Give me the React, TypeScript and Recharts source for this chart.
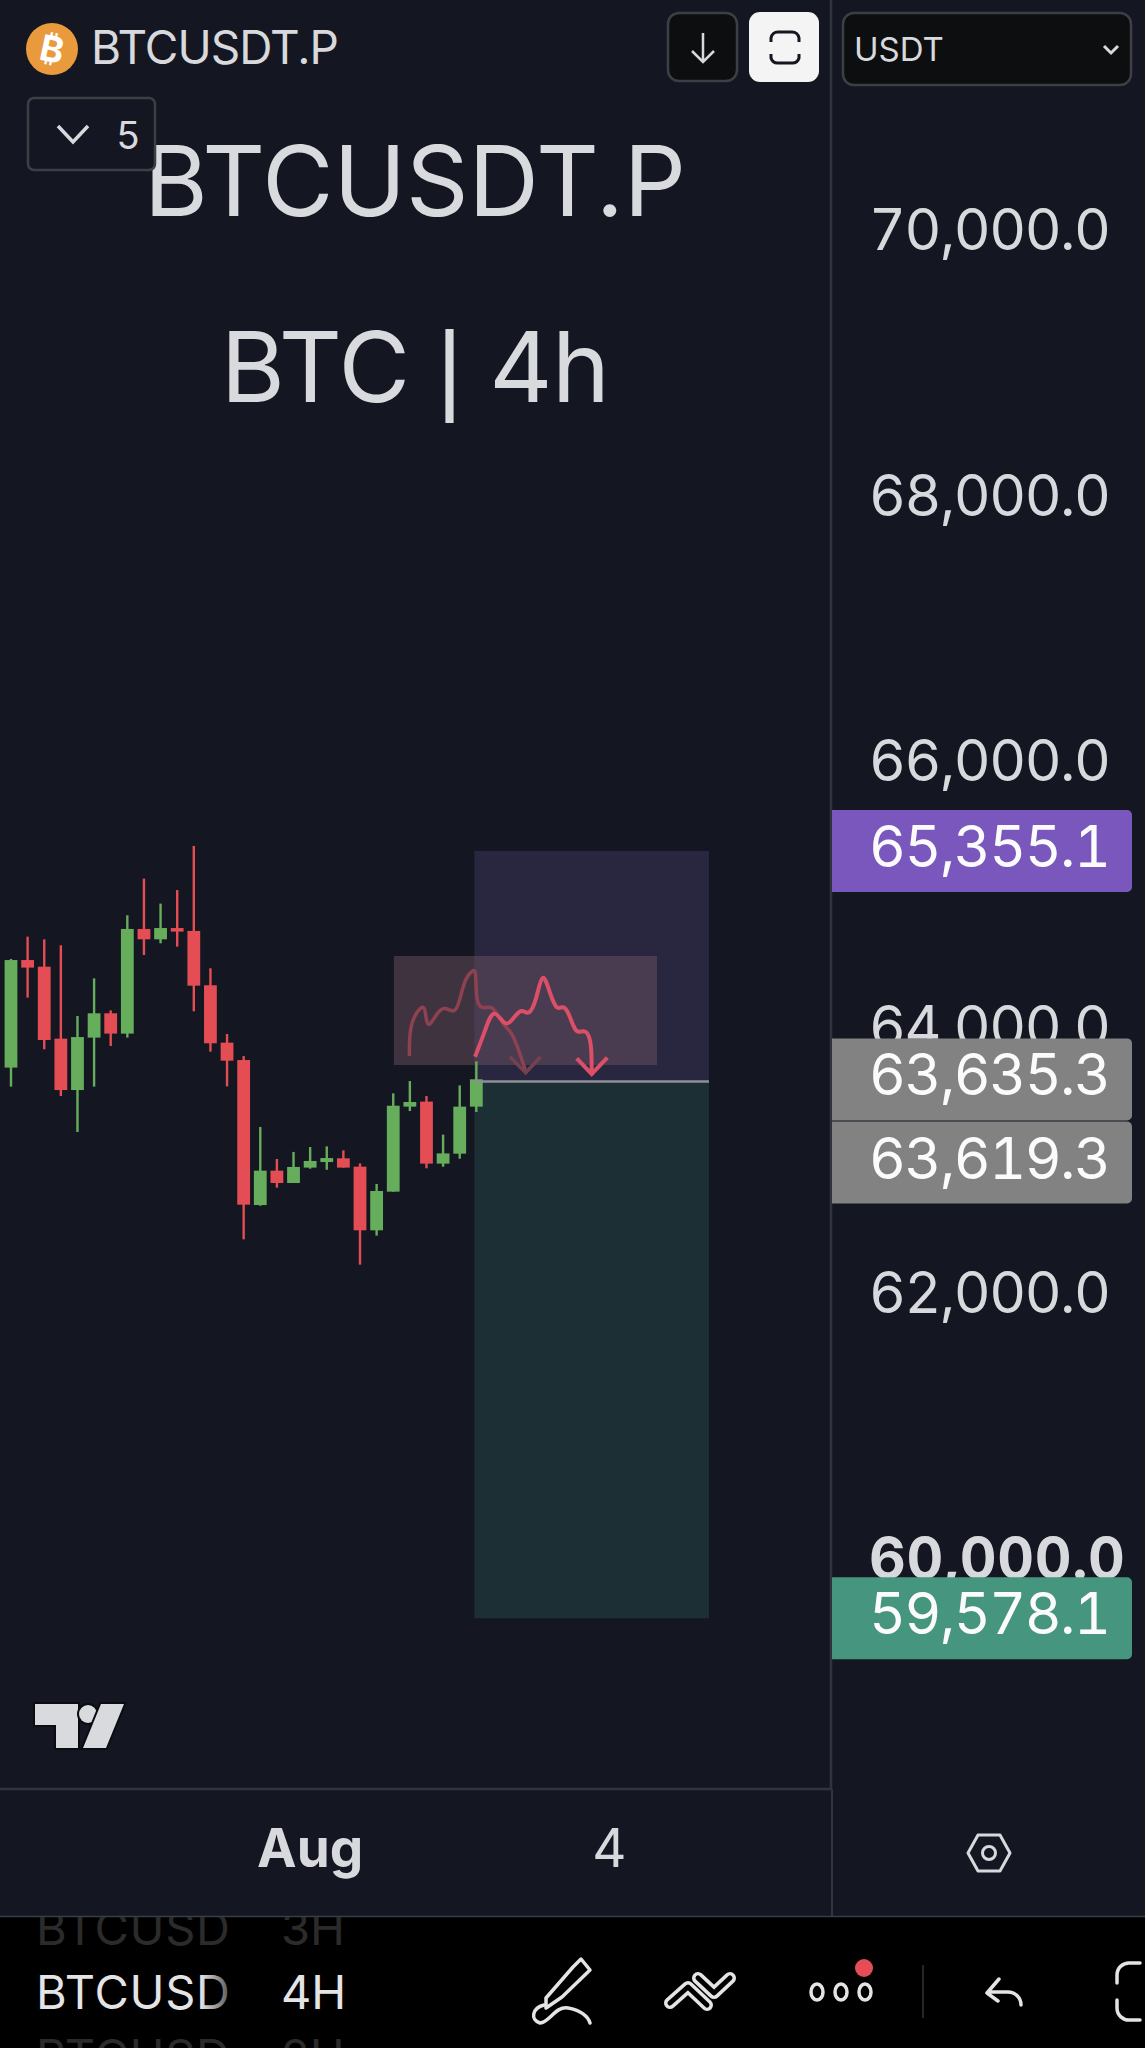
import React from 'react';
import { ComposedChart, Bar, Line, XAxis, YAxis, ReferenceArea } from 'recharts';

// Candles, left to right: [open, high, low, close]
const opens = [63724,64534,64484,63942,63555,63950,64133,63980,64768,64690,64775,64753,64344,63912,63781,62689,62948,62855,62971,63013,63041,62978,62499,62790,63430,63468,63001,63076,63430];
const highs = [64542,64710,64690,64645,64113,64396,64155,64871,65147,64959,65061,65393,64472,63977,63811,63277,63036,63089,63126,63131,63101,63003,62848,63530,63623,63510,63219,63590,63771];
const lows = [63581,64251,63862,63510,63239,63581,63887,63950,64572,64660,64635,64148,63844,63583,62431,62684,62820,62855,62963,62955,62971,62240,62459,62790,63397,62966,62978,63038,63390];
const closes = [64534,64477,63932,63555,63954,64133,63980,64768,64690,64775,64748,64341,63907,63776,62692,62948,62855,62976,63021,63043,62971,62499,62795,63437,63465,63001,63078,63430,63636];

// Trade box
const stopPrice = 65355.1;
const currentPrice = 63635.3;
const entryPrice = 63619.3;
const targetPrice = 59578.1;
const tradeStart = 27.88;
const tradeEnd = 42;

// Red rectangle drawing
const noteBox = { i1: 23.04, i2: 38.87, v1: 63744, v2: 64564 };

// Hand-drawn scribbles [bar position, price]
const faintStroke: [number, number][] = [[23.97,63811],[23.97,63982],[24.21,64108],[24.71,64185],[24.91,64180],[25.01,64050],[25.21,64040],[25.71,64150],[26.11,64185],[26.71,64125],[27.01,64233],[27.32,64400],[27.82,64460],[27.98,64460],[27.98,64215],[28.32,64165],[28.92,64190],[29.22,64133],[29.72,64032],[30.12,63995],[30.63,63831],[30.97,63693]];
const faintHead: [number, number][] = [[30.02,63806],[30.97,63686],[31.87,63806]];
const strongStroke: [number, number][] = [[27.92,63806],[28.5,63990],[29.02,64190],[29.72,64030],[30.12,64075],[30.73,64180],[31.13,64105],[31.63,64233],[31.97,64470],[32.43,64283],[32.83,64150],[33.23,64195],[33.53,64145],[33.94,63995],[34.24,63990],[34.64,64010],[34.94,63907],[34.94,63681]];
const strongHead: [number, number][] = [[34.04,63794],[34.94,63676],[35.88,63799]];

// Axes
const priceTicks = [70000, 68000, 66000, 64000, 62000, 60000];
const tagTicks = [stopPrice, currentPrice, entryPrice, targetPrice];
const timeTicks = [18, 36];
const timeLabels: Record<number, string> = { 18: 'Aug', 36: '4' };
const priceDomain: [number, number] = [58292, 71763];
const barDomain: [number, number] = [-0.662, 49.34];

const candles = opens.map((open, i) => ({ i, open, close: closes[i], range: [lows[i], highs[i]] }));
const toPoints = (pts: [number, number][]) => pts.map(([i, p]) => ({ i, p }));

const BG = '#141722';
const UP = '#66ad5c';
const DOWN = '#e34d53';
const FONT = 'Inter, "Liberation Sans", sans-serif';

const Candle = (props: any) => {
  const { x, y, width, height, payload } = props;
  const [lo, hi] = payload.range;
  const perUnit = height / (hi - lo);
  const top = y + (hi - Math.max(payload.open, payload.close)) * perUnit;
  const bot = y + (hi - Math.min(payload.open, payload.close)) * perUnit;
  const color = payload.close >= payload.open ? UP : DOWN;
  const cx = x + width / 2;
  return (
    <g>
      <rect x={cx - 1.2} y={y} width={2.4} height={height} fill={color} />
      <rect x={cx - 6.4} y={top} width={12.8} height={Math.max(bot - top, 2)} fill={color} />
    </g>
  );
};

const tagStyle: Record<string, { fill: string; dy: number }> = {
  [stopPrice]: { fill: '#7a57bd', dy: 0 },
  [currentPrice]: { fill: '#828282', dy: 0 },
  [entryPrice]: { fill: '#828282', dy: 81 },
  [targetPrice]: { fill: '#46967f', dy: 0 },
};

const PriceTick = (props: any) => {
  const { y, payload } = props;
  const v = payload.value;
  const label = v.toLocaleString('en-US', { minimumFractionDigits: 1, maximumFractionDigits: 1 });
  const tag = tagStyle[v];
  const numeric = { fontVariantNumeric: 'tabular-nums' as const };
  if (tag) {
    const cy = y + tag.dy;
    return (
      <g>
        <path d={`M832 ${cy - 41}H1127a5 5 0 0 1 5 5V${cy + 36}a5 5 0 0 1 -5 5H832Z`} fill={tag.fill} />
        <text x={869} y={cy + 16} textAnchor="start" fontFamily={FONT} fontSize={57} letterSpacing={-1.5} fill="#fbfbfb" style={numeric}>{label}</text>
      </g>
    );
  }
  const bold = v === 60000;
  return (
    <text x={869} y={y + 16} textAnchor="start" fontFamily={FONT} fontSize={57} letterSpacing={bold ? 0.6 : -1.5} fontWeight={bold ? 700 : 400} fill="#d8d9dc" style={numeric}>{label}</text>
  );
};

const TimeTick = (props: any) => {
  const { x, payload } = props;
  const bold = payload.value === 18;
  return (
    <text x={x} y={1867} textAnchor="middle" fontFamily={FONT} fontSize={53} fontWeight={bold ? 700 : 400} fill="#d8d9dc">
      {timeLabels[payload.value]}
    </text>
  );
};

const Overlay = () => (
  <svg width={1145} height={2048} style={{ position: 'absolute', left: 0, top: 0, pointerEvents: 'none' }}>
    {/* watermark */}
    <text x={415} y={216} textAnchor="middle" fontFamily={FONT} fontSize={97.5} fill="#d9dadd">BTCUSDT.P</text>
    <text x={415} y={402} textAnchor="middle" fontFamily={FONT} fontSize={98} letterSpacing={-0.6} fill="#d9dadd">BTC<tspan fontFamily='"Liberation Sans"' fontSize={100}> | </tspan>4h</text>

    {/* symbol */}
    <circle cx={52} cy={49} r={26} fill="#e99a3d" />
    <text x={52} y={62} textAnchor="middle" fontFamily='"DejaVu Sans", Inter' fontWeight={700} fontSize={36} fill="#fff" transform="rotate(12 52 49)">₿</text>
    <text x={91} y={64} fontFamily={FONT} fontSize={46} fill="#d8d9dc" letterSpacing={-1}>BTCUSDT.P</text>

    {/* buttons */}
    <rect x={668} y={13} width={69} height={68} rx={11} fill="#0d0e10" stroke="#3d3f45" strokeWidth={2.5} />
    <path d="M703 33V62M692 51L703 62L714 51" fill="none" stroke="#d8d9dc" strokeWidth={2.5} />
    <rect x={749} y={12} width={70} height={70} rx={11} fill="#f4f4f5" />
    <path d="M771 42V38a7 7 0 0 1 7 -6H792a7 7 0 0 1 7 6V42M771 54V58a7 7 0 0 0 7 5H792a7 7 0 0 0 7 -5V54" fill="none" stroke="#141722" strokeWidth={3} />
    <rect x={843} y={13} width={288} height={72} rx={11} fill="#0d0e10" stroke="#3d3f45" strokeWidth={2.5} />
    <text x={854} y={61} fontFamily={FONT} fontSize={33} fill="#d8d9dc">USDT</text>
    <path d="M1104 46L1111 53L1118 46" fill="none" stroke="#d8d9dc" strokeWidth={3} />
    <rect x={28} y={98} width={127} height={72} rx={6} fill={BG} stroke="#3d3f45" strokeWidth={2.5} />
    <path d="M58 126L73 142L88 126" fill="none" stroke="#d8d9dc" strokeWidth={3.5} />
    <text x={128} y={149} textAnchor="middle" fontFamily={FONT} fontSize={38} fill="#d8d9dc">5</text>

    {/* TV logo */}
    <g fill="#d9dadd" stroke="#0b0c12" strokeWidth={4} paintOrder="stroke">
      <path d="M35 1704H78V1748H56V1725H35Z" />
      <circle cx={88} cy={1714} r={9} />
      <path d="M101 1704H124L106 1748H83Z" />
    </g>

    {/* settings */}
    <path d="M968 1853L978 1835H1000L1010 1853L1000 1871H978Z" fill="none" stroke="#d8d9dc" strokeWidth={3} strokeLinejoin="round" />
    <circle cx={989} cy={1853} r={6.5} fill="none" stroke="#d8d9dc" strokeWidth={3} />

    {/* bottom bar */}
    <rect x={0} y={1916} width={1145} height={132} fill="#000" />
    <line x1={0} x2={1145} y1={1916.5} y2={1916.5} stroke="#3a3d45" strokeWidth={1.5} />
    <defs>
      <linearGradient id="fade" x1="0" x2="1" y1="0" y2="0">
        <stop offset="0.85" stopColor="#e4e4e6" />
        <stop offset="1" stopColor="#555" />
      </linearGradient>
      <clipPath id="bar"><rect x={0} y={1917} width={1145} height={131} /></clipPath>
    </defs>
    <g clipPath="url(#bar)" fontFamily={FONT} fontSize={47}>
      <text x={36} y={1945} fill="#2b2b2b" textLength={194}>BTCUSD</text>
      <text x={281} y={1945} fill="#2b2b2b">3H</text>
      <text x={36} y={2009} fill="url(#fade)" textLength={194}>BTCUSD</text>
      <text x={281} y={2009} fill="#e4e4e6">4H</text>
      <text x={36} y={2073} fill="#2b2b2b" textLength={194}>BTCUSD</text>
      <text x={281} y={2073} fill="#2b2b2b">2H</text>
    </g>
    <g fill="none" stroke="#e4e4e6" strokeWidth={3.5} strokeLinejoin="round" strokeLinecap="round">
      <path d="M581 1959L590 1970L562 1997L546 2008L546 1998L573 1967Z" />
      <path d="M544 2005C532 2008 530 2020 540 2023C550 2022 555 2006 568 2008C580 2010 588 2016 590 2023" />
      <g strokeWidth={12}>
        <path d="M670 2003L688 1987L707 2005M698 1978L714 1993L730 1978" />
      </g>
      <path d="M670 2003L688 1987L707 2005M698 1978L714 1993L730 1978" stroke="#000" strokeWidth={5} />
      <ellipse cx={817} cy={1992} rx={6} ry={8} />
      <ellipse cx={841} cy={1992} rx={6} ry={8} />
      <ellipse cx={865} cy={1992} rx={6} ry={8} />
      <path d="M999 1979L987 1993L998 2001M988 1992H1008a13 13 0 0 1 13 13" />
      <path d="M1140 1963H1130a12 12 0 0 0 -13 12V1983M1140 2020H1130a12 12 0 0 1 -13 -12V2000" />
    </g>
    <ellipse cx={864} cy={1968} rx={9} ry={9} fill="#e34d53" />
    <line x1={923} x2={923} y1={1965} y2={2018} stroke="#333" strokeWidth={1.5} />
  </svg>
);

export default function App() {
  return (
    <div style={{ position: 'absolute', left: 0, top: 0, width: 1145, height: 2048, background: BG, overflow: 'hidden' }}>
      <ComposedChart width={1145} height={2048} data={candles} margin={{ top: 0, right: 0, bottom: 130, left: 0 }}>
        <XAxis
          xAxisId={0}
          dataKey="i"
          type="number"
          domain={barDomain}
          allowDataOverflow
          ticks={timeTicks}
          interval={0}
          height={129}
          tick={<TimeTick />}
          tickLine={false}
          axisLine={{ stroke: '#30343f', strokeWidth: 2.5 }}
        />
        <YAxis
          yAxisId={0}
          orientation="right"
          type="number"
          domain={priceDomain}
          allowDataOverflow
          ticks={[...priceTicks, ...tagTicks]}
          interval={0}
          width={314}
          tick={<PriceTick />}
          tickLine={false}
          axisLine={{ stroke: '#30343f', strokeWidth: 2.5 }}
        />
        <ReferenceArea x1={tradeStart} x2={tradeEnd} y1={entryPrice} y2={stopPrice} fill="#29263f" fillOpacity={1} stroke="none" />
        <ReferenceArea x1={tradeStart} x2={tradeEnd} y1={targetPrice} y2={entryPrice} fill="#1c2f35" fillOpacity={1} stroke="none" />
        <ReferenceArea x1={noteBox.i1} x2={noteBox.i2} y1={noteBox.v1} y2={noteBox.v2} fill="#7a5a68" fillOpacity={0.42} stroke="none" />
        <Line data={toPoints([[tradeStart, entryPrice], [tradeEnd, entryPrice]])} dataKey="p" type="linear" stroke="#8f8f99" strokeWidth={2.5} dot={false} activeDot={false} isAnimationActive={false} />
        <Bar dataKey="range" barSize={16} shape={<Candle />} isAnimationActive={false} />
        <Line data={toPoints(faintStroke)} dataKey="p" type="basis" stroke="#8e4150" strokeWidth={3.5} strokeLinejoin="round" dot={false} activeDot={false} isAnimationActive={false} />
        <Line data={toPoints(faintHead)} dataKey="p" type="linear" stroke="#75414f" strokeWidth={3.5} dot={false} activeDot={false} isAnimationActive={false} />
        <Line data={toPoints(strongStroke)} dataKey="p" type="basis" stroke="#dc4f68" strokeWidth={4} strokeLinejoin="round" dot={false} activeDot={false} isAnimationActive={false} />
        <Line data={toPoints(strongHead)} dataKey="p" type="linear" stroke="#dc4f68" strokeWidth={4} dot={false} activeDot={false} isAnimationActive={false} />
      </ComposedChart>
      <div style={{ position: 'absolute', left: 831, top: 1789, width: 2, height: 127, background: '#30343f' }} />
      <Overlay />
    </div>
  );
}
